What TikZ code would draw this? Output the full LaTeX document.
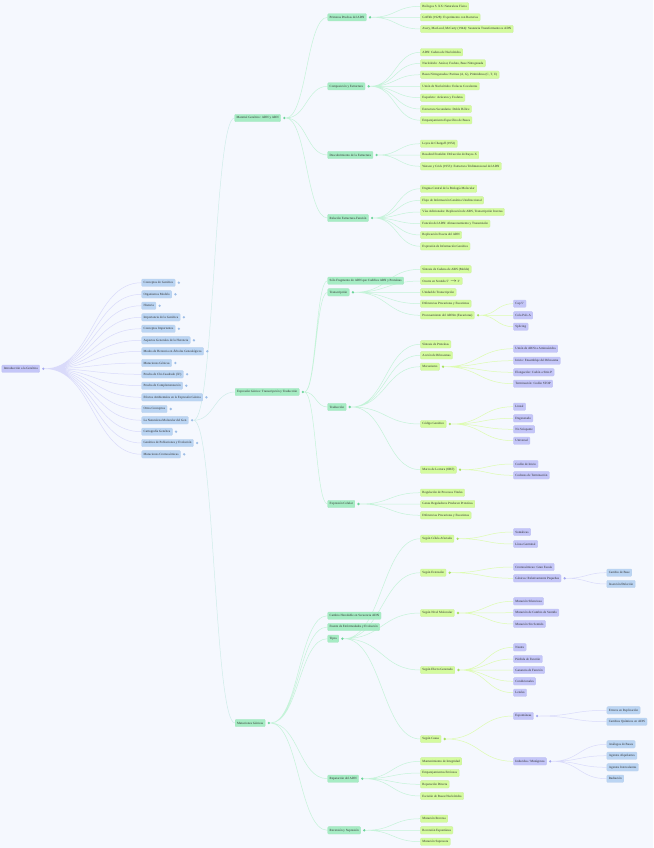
\documentclass[tikz,border=0pt]{standalone}
\usepackage{fontspec}
\setmainfont{Liberation Serif}
\usepackage{tikz}
\usetikzlibrary{calc}
\definecolor{pagebg}{HTML}{F5F8FE}
\definecolor{inkgray}{HTML}{2E2E2E}
\definecolor{clav}{HTML}{C4C6F8}
\definecolor{cblue}{HTML}{BBD5F3}
\definecolor{cmint}{HTML}{A6ECC4}
\definecolor{clime}{HTML}{D4FB9E}
\definecolor{klav}{HTML}{A4A7F0}
\definecolor{kblue}{HTML}{9DBDE6}
\definecolor{kmint}{HTML}{6DD59A}
\definecolor{klime}{HTML}{A9E25E}
\pgfdeclarelayer{wires}
\pgfsetlayers{wires,main}
\tikzset{
  mapbox/.style={anchor=west, rounded corners=1pt, inner xsep=2pt, inner ysep=0pt,
    minimum height=7.4pt, text=inkgray, line width=0.3pt,
    font=\fontsize{3.2}{3.8}\selectfont},
  rootbox/.style={mapbox, fill=clav, draw=klav!70},
  topicbox/.style={mapbox, fill=cblue, draw=kblue!70},
  subbox/.style={mapbox, fill=cmint, draw=kmint!60},
  leafbox/.style={mapbox, fill=clime, draw=klime!60},
  detailbox/.style={mapbox, fill=clav, draw=klav!70},
  finebox/.style={mapbox, fill=cblue, draw=kblue!70},
  knob/.style={circle, inner sep=0pt, minimum size=2.6pt, fill=#1},
  link/.style={line width=0.5pt, to path={let \p1=(\tikztostart), \p2=(\tikztotarget) in
    .. controls ({(\x1+\x2)/2},\y1) and ({(\x1+\x2)/2},\y2) .. (\tikztotarget)}},
}

\begin{document}
\begin{tikzpicture}[x=1pt,y=-1pt]
    % Page
    \begin{pgfonlayer}{wires}
    \fill[pagebg] (0,0) rectangle (653,848);
    \end{pgfonlayer}
    \useasboundingbox (0,0) rectangle (653,848);

    % Root
    \node[rootbox] (intro) at (1.7,368.7) {Introducción a la Genética};
    \node[knob=klav] (introk) at ([xshift=3.5pt]intro.east) {};

    % Topics
    \node[topicbox] (conc) at (141.5,282.7) {Conceptos de Genética};
    \node[topicbox] (orgm) at (141.5,294.3) {Organismos Modelo};
    \node[topicbox] (hist) at (141.5,305.7) {Historia};
    \node[topicbox] (impg) at (141.5,317.3) {Importancia de la Genética};
    \node[topicbox] (cimp) at (141.5,328.7) {Conceptos Importantes};
    \node[topicbox] (aspg) at (141.5,340.3) {Aspectos Generales de la Herencia};
    \node[topicbox] (modh) at (141.5,351.3) {Modos de Herencia en Árboles Genealógicos};
    \node[topicbox] (mgen) at (141.5,363) {Mutaciones Génicas};
    \node[topicbox] (chic) at (141.5,374.3) {Prueba de Chi-Cuadrado (X²)};
    \node[topicbox] (pcom) at (141.5,385.7) {Prueba de Complementación};
    \node[topicbox] (efam) at (141.5,397.3) {Efectos Ambientales en la Expresión Génica};
    \node[topicbox] (otro) at (141.5,409) {Otros Conceptos};
    \node[topicbox] (nmgn) at (141.5,420.3) {La Naturaleza Molecular del Gen};
    \node[topicbox] (cart) at (141.5,431.7) {Cartografía Genética};
    \node[topicbox] (gpob) at (141.5,443) {Genética de Poblaciones y Evolución};
    \node[topicbox] (mcro) at (141.5,454.3) {Mutaciones Cromosómicas};
    \node[knob=kblue] (conck) at ([xshift=3.5pt]conc.east) {};
    \node[knob=kblue] (orgmk) at ([xshift=3.5pt]orgm.east) {};
    \node[knob=kblue] (histk) at ([xshift=3.5pt]hist.east) {};
    \node[knob=kblue] (impgk) at ([xshift=3.5pt]impg.east) {};
    \node[knob=kblue] (cimpk) at ([xshift=3.5pt]cimp.east) {};
    \node[knob=kblue] (aspgk) at ([xshift=3.5pt]aspg.east) {};
    \node[knob=kblue] (modhk) at ([xshift=3.5pt]modh.east) {};
    \node[knob=kblue] (mgenk) at ([xshift=3.5pt]mgen.east) {};
    \node[knob=kblue] (chick) at ([xshift=3.5pt]chic.east) {};
    \node[knob=kblue] (pcomk) at ([xshift=3.5pt]pcom.east) {};
    \node[knob=kblue] (efamk) at ([xshift=3.5pt]efam.east) {};
    \node[knob=kblue] (otrok) at ([xshift=3.5pt]otro.east) {};
    \node[knob=kblue] (nmgnk) at ([xshift=3.5pt]nmgn.east) {};
    \node[knob=kblue] (cartk) at ([xshift=3.5pt]cart.east) {};
    \node[knob=kblue] (gpobk) at ([xshift=3.5pt]gpob.east) {};
    \node[knob=kblue] (mcrok) at ([xshift=3.5pt]mcro.east) {};

    % Naturaleza molecular del gen
    \node[subbox] (mg) at (234.5,118) {Material Genético: ADN y ARN};
    \node[subbox] (eg) at (235,392) {Expresión Génica: Transcripción y Traducción};
    \node[subbox] (mu) at (235,723) {Mutaciones Génicas};
    \node[knob=kmint] (mgk) at ([xshift=3.5pt]mg.east) {};
    \node[knob=kmint] (egk) at ([xshift=3.5pt]eg.east) {};
    \node[knob=kmint] (muk) at ([xshift=3.5pt]mu.east) {};

    % Material genetico
    \node[subbox] (pp) at (327.5,17.3) {Primeras Pruebas del ADN};
    \node[subbox] (ce) at (327.5,86.3) {Composición y Estructura};
    \node[subbox] (de) at (327.5,155) {Descubrimiento de la Estructura};
    \node[subbox] (re) at (327.5,218) {Relación Estructura-Función};
    \node[knob=kmint] (ppk) at ([xshift=3.5pt]pp.east) {};
    \node[knob=kmint] (cek) at ([xshift=3.5pt]ce.east) {};
    \node[knob=kmint] (dek) at ([xshift=3.5pt]de.east) {};
    \node[knob=kmint] (rek) at ([xshift=3.5pt]re.east) {};

    \node[leafbox] (pp1) at (420.3,6.3) {Biólogos S. XX: Naturaleza Física};
    \node[leafbox] (pp2) at (420.3,17.3) {Griffith (1928): Experimento con Bacterias};
    \node[leafbox] (pp3) at (420.3,29) {Avery, MacLeod, McCarty (1944): Sustancia Transformante es ADN};
    \node[leafbox] (ce1) at (420.3,52.3) {ADN: Cadena de Nucleótidos};
    \node[leafbox] (ce2) at (420.3,63.3) {Nucleótido: Azúcar, Fosfato, Base Nitrogenada};
    \node[leafbox] (ce3) at (420.3,74.7) {Bases Nitrogenadas: Purinas (A, G), Pirimidinas (C, T, U)};
    \node[leafbox] (ce4) at (420.3,86.3) {Unión de Nucleótidos: Enlaces Covalentes};
    \node[leafbox] (ce5) at (420.3,97.7) {Esqueleto: Azúcares y Fosfatos};
    \node[leafbox] (ce6) at (420.3,109) {Estructura Secundaria: Doble Hélice};
    \node[leafbox] (ce7) at (420.3,120.3) {Emparejamiento Específico de Bases};
    \node[leafbox] (de1) at (420.3,143.7) {Leyes de Chargaff (1952)};
    \node[leafbox] (de2) at (420.3,155) {Rosalind Franklin: Difracción de Rayos X};
    \node[leafbox] (de3) at (420.3,166.3) {Watson y Crick (1953): Estructura Tridimensional del ADN};
    \node[leafbox] (re1) at (420.3,188.7) {Dogma Central de la Biología Molecular};
    \node[leafbox] (re2) at (420.3,200.3) {Flujo de Información Genética Unidireccional};
    \node[leafbox] (re3) at (420.3,212) {Vías Adicionales: Replicación de ARN, Transcripción Inversa};
    \node[leafbox] (re4) at (420.3,223.7) {Función del ADN: Almacenamiento y Transmisión};
    \node[leafbox] (re5) at (420.3,235) {Replicación Exacta del ADN};
    \node[leafbox] (re6) at (420.3,246.3) {Expresión de Información Genética};

    % Expresion genica
    \node[subbox] (sf) at (327.5,280.7) {Sólo Fragmento de ADN que Codifica ARN y Proteínas};
    \node[subbox] (tc) at (327.5,292.3) {Transcripción};
    \node[subbox] (td) at (327.5,407) {Traducción};
    \node[subbox] (ec) at (327.5,504) {Expresión Celular};
    \node[knob=kmint] (tck) at ([xshift=3.5pt]tc.east) {};
    \node[knob=kmint] (tdk) at ([xshift=3.5pt]td.east) {};
    \node[knob=kmint] (eck) at ([xshift=3.5pt]ec.east) {};

    \node[leafbox] (tc1) at (420.3,269.3) {Síntesis de Cadena de ARN (Molde)};
    \node[leafbox] (tc2) at (420.3,281) {Ocurre en Sentido 5' $\rightarrow$ 3'};
    \node[leafbox] (tc3) at (420.3,292.3) {Unidad de Transcripción};
    \node[leafbox] (tc4) at (420.3,303.7) {Diferencias Procariotas y Eucariotas};
    \node[leafbox] (tc5) at (420.3,315.3) {Procesamiento del ARNm (Eucariotas)};
    \node[knob=klime] (tc5k) at ([xshift=3.5pt]tc5.east) {};
    \node[detailbox] (pr1) at (513.3,303.7) {Cap 5'};
    \node[detailbox] (pr2) at (513.3,315.3) {Cola Poli-A};
    \node[detailbox] (pr3) at (513.3,326.7) {Splicing};

    \node[leafbox] (td1) at (420.3,344.3) {Síntesis de Proteínas};
    \node[leafbox] (td2) at (420.3,355.3) {Acción de Ribosomas};
    \node[leafbox] (me) at (420.3,366.7) {Mecanismo};
    \node[leafbox] (cg) at (420.3,424) {Código Genético};
    \node[leafbox] (ml) at (420.3,469.7) {Marco de Lectura (ORF)};
    \node[knob=klime] (mek) at ([xshift=3.5pt]me.east) {};
    \node[knob=klime] (cgk) at ([xshift=3.5pt]cg.east) {};
    \node[knob=klime] (mlk) at ([xshift=3.5pt]ml.east) {};
    \node[detailbox] (me1) at (513.3,348.7) {Unión de ARNt a Aminoácidos};
    \node[detailbox] (me2) at (513.3,360.7) {Inicio: Ensamblaje del Ribosoma};
    \node[detailbox] (me3) at (513.3,372.3) {Elongación: Codón a Sitio P};
    \node[detailbox] (me4) at (513.3,383.7) {Terminación: Codón STOP};
    \node[detailbox] (cg1) at (513.3,406.7) {Lineal};
    \node[detailbox] (cg2) at (513.3,418.3) {Degenerado};
    \node[detailbox] (cg3) at (513.3,429.3) {No Solapante};
    \node[detailbox] (cg4) at (513.3,440.7) {Universal};
    \node[detailbox] (ml1) at (513.3,464) {Codón de Inicio};
    \node[detailbox] (ml2) at (513.3,475.3) {Codones de Terminación};

    \node[leafbox] (ec1) at (420.3,492.7) {Regulación de Procesos Vitales};
    \node[leafbox] (ec2) at (420.3,504) {Genes Reguladores Producen Proteínas};
    \node[leafbox] (ec3) at (420.3,515.3) {Diferencias Procariotas y Eucariotas};

    % Mutaciones
    \node[subbox] (ch) at (327.5,615.7) {Cambio Heredable en Secuencia ADN};
    \node[subbox] (fe) at (327.5,627) {Fuente de Enfermedades y Evolución};
    \node[subbox] (ti) at (327.5,638.7) {Tipos};
    \node[subbox] (ra) at (327.5,778.7) {Reparación del ADN};
    \node[subbox] (rs) at (327.5,830.3) {Reversión y Supresión};
    \node[knob=kmint] (tik) at ([xshift=3.5pt]ti.east) {};
    \node[knob=kmint] (rak) at ([xshift=3.5pt]ra.east) {};
    \node[knob=kmint] (rsk) at ([xshift=3.5pt]rs.east) {};

    \node[leafbox] (sc) at (420.3,538.7) {Según Célula Afectada};
    \node[leafbox] (se) at (420.3,572.7) {Según Extensión};
    \node[leafbox] (sn) at (420.3,613) {Según Nivel Molecular};
    \node[leafbox] (sg) at (420.3,670) {Según Efecto Generado};
    \node[leafbox] (sa) at (420.3,739) {Según Causa};
    \node[knob=klime] (sck) at ([xshift=3.5pt]sc.east) {};
    \node[knob=klime] (sek) at ([xshift=3.5pt]se.east) {};
    \node[knob=klime] (snk) at ([xshift=3.5pt]sn.east) {};
    \node[knob=klime] (sgk) at ([xshift=3.5pt]sg.east) {};
    \node[knob=klime] (sak) at ([xshift=3.5pt]sa.east) {};

    \node[detailbox] (sc1) at (513.3,532) {Somáticas};
    \node[detailbox] (sc2) at (513.3,544) {Línea Germinal};
    \node[detailbox] (se1) at (513.3,567) {Cromosómicas: Gran Escala};
    \node[detailbox] (se2) at (513.3,578.3) {Génicas: Relativamente Pequeñas};
    \node[knob=klav] (se2k) at ([xshift=3.5pt]se2.east) {};
    \node[finebox] (gp1) at (606.7,572.7) {Cambio de Base};
    \node[finebox] (gp2) at (606.7,584) {Inserción/Deleción};
    \node[detailbox] (sn1) at (513.3,601.3) {Mutación Silenciosa};
    \node[detailbox] (sn2) at (513.3,612.7) {Mutación de Cambio de Sentido};
    \node[detailbox] (sn3) at (513.3,624) {Mutación Sin Sentido};
    \node[detailbox] (sg1) at (513.3,647.3) {Neutra};
    \node[detailbox] (sg2) at (513.3,659) {Pérdida de Función};
    \node[detailbox] (sg3) at (513.3,670) {Ganancia de Función};
    \node[detailbox] (sg4) at (513.3,681.3) {Condicionales};
    \node[detailbox] (sg5) at (513.3,692.7) {Letales};
    \node[detailbox] (esp) at (513.3,716) {Espontáneas};
    \node[detailbox] (ind) at (513.3,761.3) {Inducidas / Mutágenos};
    \node[knob=klav] (espk) at ([xshift=3.5pt]esp.east) {};
    \node[knob=klav] (indk) at ([xshift=3.5pt]ind.east) {};
    \node[finebox] (esp1) at (606.7,710.3) {Errores en Replicación};
    \node[finebox] (esp2) at (606.7,721.7) {Cambios Químicos en ADN};
    \node[finebox] (ind1) at (606.7,744.3) {Análogos de Bases};
    \node[finebox] (ind2) at (606.7,755.7) {Agentes Alquilantes};
    \node[finebox] (ind3) at (606.7,767.3) {Agentes Intercalantes};
    \node[finebox] (ind4) at (606.7,778.7) {Radiación};

    \node[leafbox] (ra1) at (420.3,761.3) {Mantenimiento de Integridad};
    \node[leafbox] (ra2) at (420.3,773) {Emparejamientos Erróneos};
    \node[leafbox] (ra3) at (420.3,784.3) {Reparación Directa};
    \node[leafbox] (ra4) at (420.3,796) {Escisión de Bases/Nucleótidos};
    \node[leafbox] (rs1) at (420.3,818.7) {Mutación Reversa};
    \node[leafbox] (rs2) at (420.3,830.3) {Reversión Espontánea};
    \node[leafbox] (rs3) at (420.3,841.7) {Mutación Supresora};

    % Links
    \begin{pgfonlayer}{wires}
    \draw[link, clav!65] (introk.east) to (conc.west) (introk.east) to (orgm.west)
      (introk.east) to (hist.west) (introk.east) to (impg.west)
      (introk.east) to (cimp.west) (introk.east) to (aspg.west)
      (introk.east) to (modh.west) (introk.east) to (mgen.west)
      (introk.east) to (chic.west) (introk.east) to (pcom.west)
      (introk.east) to (efam.west) (introk.east) to (otro.west)
      (introk.east) to (nmgn.west) (introk.east) to (cart.west)
      (introk.east) to (gpob.west) (introk.east) to (mcro.west);
    \draw[link, cblue!50!cmint!60] (nmgnk.east) to (mg.west) (nmgnk.east) to (eg.west)
      (nmgnk.east) to (mu.west);
    \draw[link, cmint!65] (mgk.east) to (pp.west) (mgk.east) to (ce.west)
      (mgk.east) to (de.west) (mgk.east) to (re.west);
    \draw[link, cmint!65] (ppk.east) to (pp1.west) (ppk.east) to (pp2.west) (ppk.east) to (pp3.west);
    \draw[link, cmint!65] (cek.east) to (ce1.west) (cek.east) to (ce2.west) (cek.east) to (ce3.west)
      (cek.east) to (ce4.west) (cek.east) to (ce5.west) (cek.east) to (ce6.west) (cek.east) to (ce7.west);
    \draw[link, cmint!65] (dek.east) to (de1.west) (dek.east) to (de2.west) (dek.east) to (de3.west);
    \draw[link, cmint!65] (rek.east) to (re1.west) (rek.east) to (re2.west) (rek.east) to (re3.west)
      (rek.east) to (re4.west) (rek.east) to (re5.west) (rek.east) to (re6.west);
    \draw[link, cmint!65] (egk.east) to (sf.west) (egk.east) to (tc.west)
      (egk.east) to (td.west) (egk.east) to (ec.west);
    \draw[link, cmint!65] (tck.east) to (tc1.west) (tck.east) to (tc2.west) (tck.east) to (tc3.west)
      (tck.east) to (tc4.west) (tck.east) to (tc5.west);
    \draw[link, clime!80] (tc5k.east) to (pr1.west) (tc5k.east) to (pr2.west) (tc5k.east) to (pr3.west);
    \draw[link, cmint!65] (tdk.east) to (td1.west) (tdk.east) to (td2.west) (tdk.east) to (me.west)
      (tdk.east) to (cg.west) (tdk.east) to (ml.west);
    \draw[link, clime!80] (mek.east) to (me1.west) (mek.east) to (me2.west)
      (mek.east) to (me3.west) (mek.east) to (me4.west);
    \draw[link, clime!80] (cgk.east) to (cg1.west) (cgk.east) to (cg2.west)
      (cgk.east) to (cg3.west) (cgk.east) to (cg4.west);
    \draw[link, clime!80] (mlk.east) to (ml1.west) (mlk.east) to (ml2.west);
    \draw[link, cmint!65] (eck.east) to (ec1.west) (eck.east) to (ec2.west) (eck.east) to (ec3.west);
    \draw[link, cmint!65] (muk.east) to (ch.west) (muk.east) to (fe.west) (muk.east) to (ti.west)
      (muk.east) to (ra.west) (muk.east) to (rs.west);
    \draw[link, cmint!65] (tik.east) to (sc.west) (tik.east) to (se.west) (tik.east) to (sn.west)
      (tik.east) to (sg.west) (tik.east) to (sa.west);
    \draw[link, clime!80] (sck.east) to (sc1.west) (sck.east) to (sc2.west);
    \draw[link, clime!80] (sek.east) to (se1.west) (sek.east) to (se2.west);
    \draw[link, clav!65] (se2k.east) to (gp1.west) (se2k.east) to (gp2.west);
    \draw[link, clime!80] (snk.east) to (sn1.west) (snk.east) to (sn2.west) (snk.east) to (sn3.west);
    \draw[link, clime!80] (sgk.east) to (sg1.west) (sgk.east) to (sg2.west) (sgk.east) to (sg3.west)
      (sgk.east) to (sg4.west) (sgk.east) to (sg5.west);
    \draw[link, clime!80] (sak.east) to (esp.west) (sak.east) to (ind.west);
    \draw[link, clav!65] (espk.east) to (esp1.west) (espk.east) to (esp2.west);
    \draw[link, clav!65] (indk.east) to (ind1.west) (indk.east) to (ind2.west)
      (indk.east) to (ind3.west) (indk.east) to (ind4.west);
    \draw[link, cmint!65] (rak.east) to (ra1.west) (rak.east) to (ra2.west)
      (rak.east) to (ra3.west) (rak.east) to (ra4.west);
    \draw[link, cmint!65] (rsk.east) to (rs1.west) (rsk.east) to (rs2.west) (rsk.east) to (rs3.west);
    \end{pgfonlayer}
\end{tikzpicture}
\end{document}
